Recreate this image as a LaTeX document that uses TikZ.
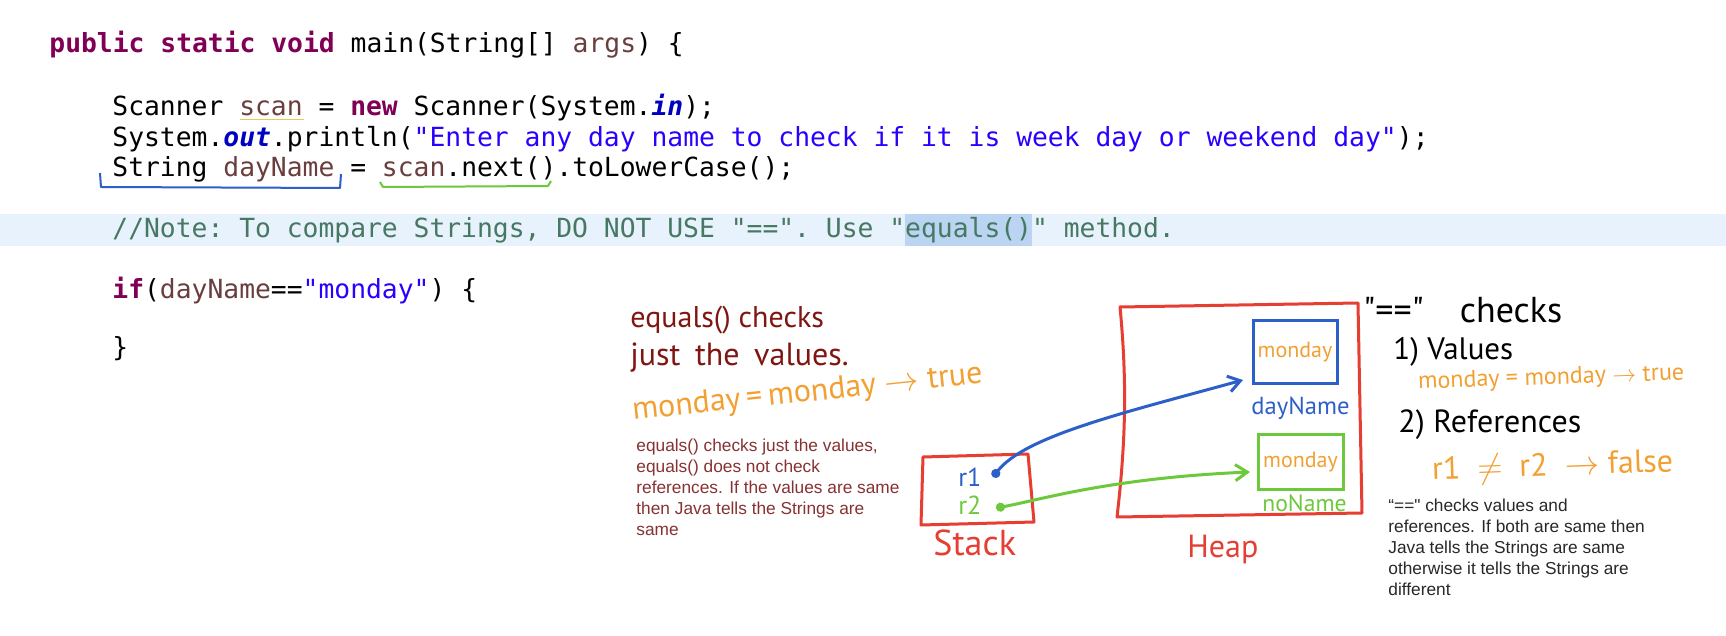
\documentclass[tikz,border=0pt]{standalone}
\usepackage{fontspec}
\setmonofont{DejaVu Sans Mono}
\newfontfamily\notefont{Liberation Sans}
\newfontfamily\handfont{PT Sans}
\usetikzlibrary{arrows.meta}
\definecolor{kwpurple}{RGB}{127,0,85}
\definecolor{varbrown}{RGB}{106,62,62}
\definecolor{fieldblue}{RGB}{0,0,192}
\definecolor{strblue}{RGB}{42,0,255}
\definecolor{cmtgreen}{RGB}{70,120,98}
\definecolor{curline}{RGB}{232,242,252}
\definecolor{selblue}{RGB}{186,212,242}
\definecolor{warnyellow}{RGB}{232,200,90}
\definecolor{handred}{RGB}{230,62,50}
\definecolor{handblue}{RGB}{45,95,200}
\definecolor{handgreen}{RGB}{110,200,60}
\definecolor{handorange}{RGB}{242,160,50}
\definecolor{handmaroon}{RGB}{128,22,18}
\definecolor{notemaroon}{RGB}{135,50,50}
\definecolor{notegray}{RGB}{40,40,40}
\newcommand{\kw}[1]{\textcolor{kwpurple}{\bfseries #1}}
\newcommand{\lvar}[1]{\textcolor{varbrown}{#1}}
\newcommand{\fld}[1]{\textcolor{fieldblue}{\bfseries\itshape #1}}
\newcommand{\jstr}[1]{\textcolor{strblue}{#1}}
\newcommand{\handsz}[1]{\handfont\fontsize{#1}{#1}\selectfont}
\newcommand{\gap}{\hspace{6pt}}
\tikzset{
  code/.style={anchor=base west, inner sep=0, font=\ttfamily\fontsize{13.17}{15}\selectfont},
  note/.style={anchor=base west, align=left, inner sep=0, font=\notefont\fontsize{8.65}{10.45}\selectfont},
  hand/.style={anchor=base west, inner sep=0},
  handbox/.style={draw=handred, line width=1.5pt, line join=round},
  membox/.style={line width=1.5pt, inner sep=0, text=handorange, font=\handsz{11}},
  refarrow/.style={line width=1.5pt, {Circle[length=4.5pt]}-{Straight Barb[length=6pt,width=8pt]}}
}
\begin{document}
\begin{tikzpicture}[x=0.5pt, y=-0.5pt]
  \fill[white] (0,0) rectangle (1726,636);
  % editor: current line and selection
  \fill[curline] (0,214) rectangle (1726,246);
  \fill[selblue] (905,214) rectangle (1032,246);

  \node[code] (mainline)  at (49,53)   {\kw{public static void} main(String[] \lvar{args}) \{};
  \node[code] (scanline)  at (112,116) {Scanner \lvar{scan} = \kw{new} Scanner(System.\fld{in});};
  \node[code] (printline) at (112,147) {System.\fld{out}.println(\jstr{"Enter any day name to check if it is week day or weekend day"});};
  \node[code] (readline)  at (112,177) {String \lvar{dayName} = \lvar{scan}.next().toLowerCase();};
  \node[code, text=cmtgreen] (noteline) at (112,238) {//Note: To compare Strings, DO NOT USE "==". Use "equals()" method.};
  \node[code] (ifline)    at (112,299) {\kw{if}(\lvar{dayName}==\jstr{"monday"}) \{};
  \node[code] (closeline) at (112,357) {\}};

  \draw[warnyellow, line width=0.5pt] (240,120) -- (304,120);
  \draw[handblue, line width=1pt, line join=round] (100,173) -- (101,187) -- (340,188) -- (341,174);
  \draw[handgreen, line width=1pt, line join=round] (380,182) -- (383,187) -- (548,186) -- (551,181);

  % equals() side
  \node[hand, text=handmaroon, font=\handsz{15}] (eqhead) at (630,328) {equals() checks};
  \node[hand, text=handmaroon, font=\handsz{16}] (eqjust) at (630,366) {just\hspace{3pt} the\hspace{3pt} values.};
  \node[hand, text=handorange, font=\handsz{16}, rotate=6] (eqtrue) at (633,420) {monday$\,$=$\,$monday $\rightarrow$ true};
  \node[note, text=notemaroon] (leftnote) at (636,535) {equals() checks just the values,\\equals() does not check\\references. If the values are same\\then Java tells the Strings are\\same};

  % stack and heap
  \draw[handbox] (923,457) -- (1028,454) -- (1034,522) -- (921,525) -- cycle;
  \draw[handbox] (1120,307) -- (1358,303) -- (1362,513) -- (1117,517) .. controls (1126,440) and (1127,380) .. (1120,307) -- cycle;
  \node[hand, text=handred, font=\handsz{18}] (stacklbl) at (933,555) {Stack};
  \node[hand, text=handred, font=\handsz{16}] (heaplbl) at (1187,557) {Heap};

  \node[hand, text=handblue, font=\handsz{13}] (r1) at (958,487) {r1};
  \node[hand, text=handgreen, font=\handsz{13}] (r2) at (958,515) {r2};

  \node[membox, draw=handblue, minimum width=42pt, minimum height=31.5pt] (daybox) at (1295,352.5) {monday};
  \node[membox, draw=handgreen, minimum width=42.5pt, minimum height=27.5pt] (nobox) at (1300.5,462.5) {monday};
  \node[hand, text=handblue, font=\handsz{12.3}] (daylbl) at (1251,415) {dayName};
  \node[hand, text=handgreen, font=\handsz{11.8}] (nolbl) at (1262,511) {noName};

  \coordinate (r1pin) at (993,477);
  \coordinate (r2pin) at (996,508);
  \coordinate (daytip) at (1243,380);
  \coordinate (notip) at (1250,472);
  \draw[refarrow, handblue] (r1pin) .. controls (1025,436) and (1123,413) .. (daytip);
  \draw[refarrow, handgreen] (r2pin) .. controls (1040,500) and (1110,478) .. (notip);

  % == side
  \node[hand, font=\handsz{18}] (cmphead) at (1363,323) {"=="\gap\gap\gap checks};
  \node[hand, font=\handsz{15.5}] (cmpval) at (1393,360) {1) Values};
  \node[hand, text=handorange, font=\handsz{12}, rotate=2] (cmptrue) at (1418,389) {monday = monday $\rightarrow$ true};
  \node[hand, font=\handsz{16}] (cmpref) at (1398,433) {2) References};
  \node[hand, text=handorange, font=\handsz{16}, rotate=2] (cmpfalse) at (1432,480) {r1\ \ $\neq$\ \ r2\ \ $\rightarrow$ false};
  \node[note, text=notegray] (rightnote) at (1388,595) {“==" checks values and\\references. If both are same then\\Java tells the Strings are same\\otherwise it tells the Strings are\\different};
\end{tikzpicture}
\end{document}
